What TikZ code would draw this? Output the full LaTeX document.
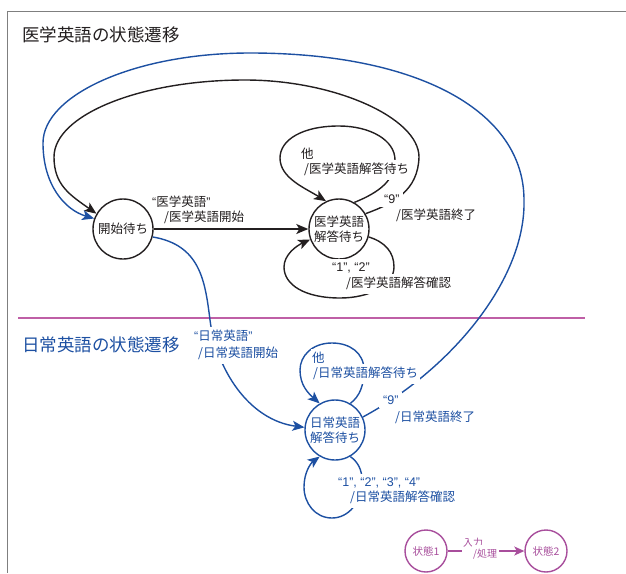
\documentclass[tikz,border=0pt]{standalone}
\usepackage{fontspec}
\setmainfont{Noto Sans CJK JP}
\newfontfamily\latinf{Liberation Sans}
\usetikzlibrary{arrows.meta}
\definecolor{kuro}{HTML}{231F20}
\definecolor{ao}{HTML}{1D50A2}
\definecolor{momo}{HTML}{A84E9C}
\definecolor{momoline}{HTML}{BF5FA6}
\definecolor{waku}{HTML}{7F7F7F}
\newcommand\oq{{\latinf “}}
\newcommand\cq{{\latinf ”}}
\begin{document}
\begin{tikzpicture}[x=1pt,y=-1pt,
  state/.style={circle, draw=#1, text=#1, line width=1.4pt, minimum size=60pt, inner sep=0pt, align=center,
    font=\fontsize{12.5}{15}\selectfont, fill=white},
  smallstate/.style={circle, draw=momo, text=momo, line width=1.4pt, minimum size=42pt, inner sep=0pt,
    font=\fontsize{10.5}{12}\selectfont, fill=white},
  lab/.style={anchor=base west, inner xsep=1.5pt, inner ysep=1pt, font=\fontsize{12.5}{15}\selectfont, text=#1},
  bg/.style={fill=white, inner ysep=3.5pt},
  ttl/.style={anchor=base west, inner sep=0pt, font=\fontsize{17.5}{20}\selectfont, text=#1},
  tr/.style={line width=1.4pt, draw=#1, -{Stealth[length=12pt,width=10pt,inset=3pt]}},
]
\useasboundingbox (0,0) rectangle (626,573);
% frame and separator
\draw[waku, line width=1pt] (626,11) -- (7,11) -- (7,573);
\draw[momoline, line width=1.2pt] (18,318) -- (585,318);
% titles
\node[ttl=kuro] (t1) at (22,41.7) {医学英語の状態遷移};
\node[ttl=ao] (t2) at (22,351.7) {日常英語の状態遷移};
% states
\node[state=kuro] (K) at (123,229) {開始待ち};
\node[state=kuro] (I) at (339,229) {医学英語\\解答待ち};
\node[state=ao] (N) at (335,430) {日常英語\\解答待ち};
\node[smallstate] (S1) at (426,551) {状態1};
\node[smallstate] (S2) at (546,551) {状態2};
% black transitions
\draw[tr=kuro, fill=none] (K) -- (I);
\draw[tr=kuro] (I.60) .. controls (380,192) and (395,180) .. (395,160)
  .. controls (395,140) and (370,126) .. (339,126)
  .. controls (302,126) and (280,140) .. (280,158)
  .. controls (280,178) and (305,188) .. (I.115);
\draw[tr=kuro] (I.30) .. controls (395,203) and (418,190) .. (419,157)
  .. controls (419,118) and (335,80) .. (245,80)
  .. controls (140,80) and (54,115) .. (54,157)
  .. controls (54,185) and (70,195) .. (K.150);
\draw[tr=kuro] (I.-15) .. controls (385,242) and (394,252) .. (394,267)
  .. controls (394,285) and (370,298) .. (340,298)
  .. controls (305,298) and (284,285) .. (284,267)
  .. controls (284,255) and (296,246) .. (I.200);
% blue transitions
\draw[tr=ao] (K.-15) .. controls (200,245) and (205,280) .. (210,320)
  .. controls (216,368) and (248,420) .. (N.175);
\draw[tr=ao] (N.25) .. controls (450,370) and (526,280) .. (524,200)
  .. controls (524,112) and (420,53) .. (250,53)
  .. controls (135,53) and (43,95) .. (43,143)
  .. controls (43,185) and (65,210) .. (K.160);
\draw[tr=ao] (N.60) .. controls (360,396) and (364,385) .. (364,370)
  .. controls (364,353) and (350,343) .. (332,343)
  .. controls (312,343) and (300,356) .. (300,370)
  .. controls (300,385) and (308,393) .. (N.120);
\draw[tr=ao] (N.-60) .. controls (358,462) and (362,470) .. (362,480)
  .. controls (362,503) and (348,518) .. (332,518)
  .. controls (315,518) and (304,503) .. (304,487)
  .. controls (304,472) and (311,463) .. (N.-120);
% legend arrow
\draw[draw=momo, line width=1.4pt, -{Stealth[length=10pt,width=9pt,inset=2.5pt]}] (S1) -- (S2);
% black labels
\node[lab=kuro] (la1) at (150.5,206.8) {\oq 医学英語\cq};
\node[lab=kuro] (la2) at (162.5,221.8) {/医学英語開始};
\node[lab=kuro, bg] (lb1) at (299.5,158.8) {他};
\node[lab=kuro, bg] (lb2) at (302.5,173.8) {/医学英語解答待ち};
\node[lab=kuro, bg, inner xsep=4pt] (lc1) at (380,203.5) {\latinf “9”};
\node[lab=kuro, bg] (lc2) at (394.5,219.8) {/医学英語終了};
\node[lab=kuro, bg] (ld1) at (330.5,271.5) {\latinf “1”, “2”};
\node[lab=kuro, bg] (ld2) at (344.5,287.8) {/医学英語解答確認};
% blue labels
\node[lab=ao, bg] (le1) at (192.5,340.8) {\oq 日常英語\cq};
\node[lab=ao, bg] (le2) at (196.5,357.8) {/日常英語開始};
\node[lab=ao, bg] (lf1) at (310.5,362.8) {他};
\node[lab=ao, bg] (lf2) at (311.5,377.8) {/日常英語解答待ち};
\node[lab=ao, bg, inner xsep=4pt] (lg1) at (379,404.5) {\latinf “9”};
\node[lab=ao, bg] (lg2) at (393.5,421.8) {/日常英語終了};
\node[lab=ao, bg] (lh1) at (336.5,486.5) {\latinf “1”, “2”, “3”, “4”};
\node[lab=ao, bg] (lh2) at (348.5,501.8) {/日常英語解答確認};
% legend labels
\node[lab=momo, bg, inner ysep=4.5pt, font=\fontsize{10}{12}\selectfont] (li1) at (461.5,546.3) {入力};
\node[lab=momo, bg, inner ysep=4.5pt, font=\fontsize{10}{12}\selectfont] (li2) at (471.5,557.8) {/処理};
\end{tikzpicture}
\end{document}
